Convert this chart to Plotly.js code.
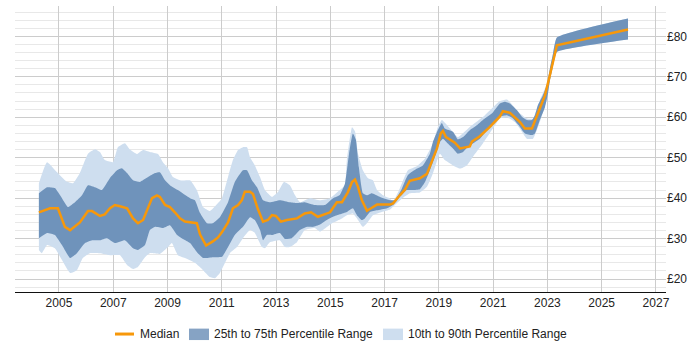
<!DOCTYPE html>
<html>
<head>
<meta charset="utf-8">
<script src="https://cdn.plot.ly/plotly-3.0.1.min.js"></script>
<style>html,body{margin:0;padding:0;background:#fff}#chart{width:700px;height:350px}</style>
</head>
<body>
<div id="chart"></div>
<script>
// Median
const medianX = [2004.26,2004.67,2004.96,2005.22,2005.41,2005.77,2006.07,2006.22,2006.51,2006.69,2006.88,2007.06,2007.25,2007.51,2007.73,2007.91,2008.10,2008.28,2008.43,2008.61,2008.72,2008.91,2009.09,2009.27,2009.46,2009.64,2009.94,2010.08,2010.20,2010.42,2010.67,2010.86,2011.01,2011.23,2011.41,2011.60,2011.74,2011.85,2012.04,2012.15,2012.33,2012.52,2012.70,2012.85,2012.99,2013.18,2013.40,2013.77,2014.06,2014.29,2014.54,2014.73,2014.99,2015.24,2015.43,2015.65,2015.80,2015.91,2016.02,2016.16,2016.35,2016.50,2016.72,2017.20,2017.31,2017.56,2017.75,2017.93,2018.30,2018.56,2018.74,2018.93,2019.07,2019.15,2019.26,2019.59,2019.78,2020.14,2020.22,2020.51,2020.88,2021.25,2021.36,2021.62,2021.99,2022.17,2022.43,2022.61,2022.91,2023.09,2023.20,2023.35,2025.97];
const medianY = [36.5,37.5,37.5,32.9,32.1,34.0,36.8,36.8,35.6,36.0,37.5,38.3,38.0,37.5,35.0,33.8,34.6,37.8,40.0,40.7,40.3,38.3,37.8,36.5,35.0,34.2,34.0,33.8,31.0,28.3,29.3,30.3,31.6,34.0,37.5,38.3,39.5,41.6,41.6,41.0,37.3,34.2,34.6,35.8,35.6,34.2,34.6,35.0,36.2,36.5,35.4,35.8,36.5,39.0,39.0,41.5,44.0,44.6,42.8,39.5,36.9,37.5,38.4,38.4,38.7,40.7,42.1,44.3,44.9,46.0,49.0,52.3,56.0,56.6,55.1,53.7,52.3,52.8,54.0,55.3,57.6,60.2,61.5,61.1,58.8,57.2,57.2,60.1,65.4,70.4,73.7,77.8,81.7];

// 25th percentile
const p25X = [2004.26,2004.56,2004.85,2005.11,2005.41,2005.66,2005.96,2006.22,2006.51,2006.77,2007.06,2007.43,2007.73,2007.91,2008.17,2008.35,2008.54,2008.83,2009.09,2009.35,2009.57,2009.83,2010.08,2010.31,2010.67,2011.01,2011.23,2011.48,2011.78,2012.04,2012.22,2012.41,2012.52,2012.66,2012.85,2013.14,2013.33,2013.58,2013.88,2014.14,2014.36,2014.62,2014.87,2015.10,2015.35,2015.61,2015.83,2015.98,2016.16,2016.27,2016.46,2016.72,2017.09,2017.31,2017.56,2017.82,2018.04,2018.30,2018.49,2018.67,2018.85,2019.04,2019.15,2019.33,2019.52,2019.70,2019.89,2020.07,2020.25,2020.51,2020.77,2020.99,2021.25,2021.51,2021.73,2021.99,2022.17,2022.43,2022.54,2022.72,2022.91,2023.02,2023.09,2023.20,2023.35,2025.97];
const p25Y = [30.1,31.4,30.9,28.4,25.2,26.4,28.9,29.6,29.6,30.1,28.9,29.6,27.6,27.2,28.4,32.1,32.9,32.6,33.3,30.9,29.9,28.9,26.7,25.2,25.4,25.5,27.9,30.9,32.9,35.3,34.6,32.1,29.6,30.9,30.9,31.4,29.9,30.1,32.1,32.9,32.9,33.5,34.6,35.4,36.0,36.6,37.5,35.8,34.6,35.0,36.6,37.0,37.5,38.3,40.3,42.0,42.0,42.2,44.0,46.9,50.2,53.9,54.7,53.5,52.3,51.0,51.4,52.7,53.5,54.7,56.8,58.4,60.2,60.5,59.7,57.6,56.0,55.6,56.0,59.3,62.5,65.8,69.0,72.5,76.1,79.2];

// 75th percentile
const p75X = [2004.26,2004.56,2004.85,2005.11,2005.33,2005.59,2005.85,2006.07,2006.33,2006.58,2006.88,2007.14,2007.32,2007.51,2007.73,2007.98,2008.28,2008.54,2008.72,2008.91,2009.09,2009.38,2009.83,2010.01,2010.20,2010.45,2010.67,2010.93,2011.23,2011.48,2011.78,2011.93,2012.11,2012.30,2012.52,2012.77,2013.14,2013.51,2013.77,2014.06,2014.43,2014.80,2015.10,2015.35,2015.54,2015.69,2015.83,2015.94,2016.05,2016.20,2016.35,2016.53,2016.83,2017.20,2017.38,2017.64,2017.86,2018.19,2018.41,2018.67,2018.78,2018.96,2019.11,2019.22,2019.52,2019.70,2019.89,2020.14,2020.40,2020.62,2020.95,2021.25,2021.43,2021.62,2021.88,2022.06,2022.24,2022.43,2022.54,2022.65,2022.83,2022.98,2023.09,2023.20,2023.35,2025.97];
const p75Y = [41.2,42.7,42.5,40.0,37.8,39.0,40.7,43.2,42.7,42.0,45.0,46.9,47.4,46.2,44.4,44.0,45.2,46.2,46.4,44.4,43.2,42.0,40.0,39.5,36.3,33.8,33.8,35.3,39.0,44.0,46.9,46.9,44.4,42.7,39.5,39.0,39.5,39.0,38.8,39.0,38.3,38.3,40.0,40.8,43.6,51.0,56.0,54.5,47.7,41.2,40.7,41.2,40.3,39.5,39.5,42.4,45.7,47.3,48.1,51.0,53.9,56.8,58.6,57.2,56.4,54.5,55.1,56.8,58.0,59.3,60.9,63.4,63.8,63.4,61.7,60.1,59.3,59.3,60.5,63.0,65.4,67.9,72.0,75.5,79.7,84.4];

// 10th percentile
const p10X = [2004.26,2004.37,2004.56,2004.85,2005.11,2005.41,2005.66,2005.88,2006.14,2006.51,2006.88,2007.25,2007.51,2007.73,2007.91,2008.17,2008.35,2008.72,2009.02,2009.16,2009.38,2009.64,2010.01,2010.31,2010.56,2010.75,2010.93,2011.12,2011.30,2011.56,2011.78,2012.04,2012.22,2012.48,2012.59,2012.77,2013.14,2013.33,2013.51,2013.77,2014.06,2014.43,2014.62,2014.80,2015.06,2015.43,2015.61,2015.83,2016.02,2016.20,2016.35,2016.57,2016.90,2017.20,2017.38,2017.64,2017.93,2018.30,2018.56,2018.78,2019.04,2019.22,2019.52,2019.78,2020.03,2020.25,2020.62,2020.99,2021.25,2021.54,2021.80,2022.06,2022.24,2022.47,2022.72,2022.98,2023.09,2023.20,2023.35,2025.97];
const p10Y = [27.2,26.4,28.4,27.6,24.7,21.5,22.2,25.2,26.4,26.4,25.9,25.9,23.5,22.5,23.0,25.4,26.4,26.2,27.9,28.9,25.9,25.2,24.0,22.2,20.5,20.2,21.5,24.0,26.4,27.9,30.1,32.1,31.4,27.9,27.6,29.1,29.6,27.9,27.9,29.1,32.1,32.6,31.7,32.5,33.8,35.0,35.8,36.2,34.6,32.9,33.8,35.8,36.6,37.2,38.3,39.9,41.2,41.4,42.8,46.1,51.0,49.4,48.1,47.3,48.1,50.2,53.5,57.2,59.7,59.9,58.8,56.4,54.7,54.7,58.8,64.6,69.0,72.5,76.1,79.2];

// 90th percentile
const p90X = [2004.26,2004.56,2004.96,2005.26,2005.52,2005.77,2006.07,2006.33,2006.51,2006.69,2006.99,2007.17,2007.43,2007.62,2007.87,2008.10,2008.35,2008.65,2008.83,2009.02,2009.20,2009.46,2009.83,2010.08,2010.31,2010.56,2010.82,2011.01,2011.23,2011.41,2011.60,2011.78,2011.93,2012.04,2012.22,2012.41,2012.59,2012.85,2013.07,2013.29,2013.51,2013.70,2013.88,2014.25,2014.62,2014.99,2015.35,2015.54,2015.61,2015.80,2015.91,2016.02,2016.20,2016.39,2016.57,2016.72,2016.94,2017.20,2017.31,2017.56,2017.86,2018.19,2018.49,2018.78,2018.96,2019.11,2019.41,2019.70,2020.14,2020.70,2021.25,2021.51,2021.99,2022.24,2022.47,2022.72,2022.98,2023.09,2023.20,2023.35,2025.97];
const p90Y = [43.7,48.9,46.2,44.2,43.7,46.2,51.0,52.1,51.4,49.4,48.9,52.6,53.6,52.0,50.9,51.9,51.4,50.9,48.9,47.4,45.2,44.4,44.4,42.0,37.8,36.8,38.5,40.0,45.2,49.4,51.9,52.6,52.6,50.1,48.1,45.2,42.0,40.3,41.5,44.0,43.2,40.7,39.0,40.0,39.5,40.0,42.0,43.2,49.4,57.5,56.5,51.0,46.9,44.9,44.4,42.0,40.7,39.9,39.1,42.4,46.9,47.9,49.8,53.5,57.5,59.3,57.2,55.1,57.6,60.5,64.0,64.4,60.9,59.7,59.7,64.2,68.3,72.0,75.5,79.7,84.4];

const legendNames = ['Median', '25th to 75th Percentile Range', '10th to 90th Percentile Range'];

const LIGHT = 'rgb(206,222,239)';
const DARK = 'rgb(111,147,187)';
const DARK_KEY = 'rgb(134,163,196)';
const ORANGE = 'rgb(247,152,10)';

const traces = [
  {x: p10X, y: p10Y, type: 'scatter', mode: 'lines', line: {width: 0, shape: 'spline', smoothing: 0.4}, showlegend: false, hoverinfo: 'skip'},
  {x: p90X, y: p90Y, type: 'scatter', mode: 'lines', fill: 'tonexty', fillcolor: LIGHT, line: {width: 0, shape: 'spline', smoothing: 0.4, color: LIGHT}, name: legendNames[2], showlegend: false},
  {x: p25X, y: p25Y, type: 'scatter', mode: 'lines', line: {width: 0, shape: 'spline', smoothing: 0.4}, showlegend: false, hoverinfo: 'skip'},
  {x: p75X, y: p75Y, type: 'scatter', mode: 'lines', fill: 'tonexty', fillcolor: DARK, line: {width: 0, shape: 'spline', smoothing: 0.4, color: DARK}, name: legendNames[1], showlegend: false},
  {x: medianX, y: medianY, type: 'scatter', mode: 'lines', line: {width: 2.5, color: ORANGE}, name: legendNames[0], showlegend: false}
];

// Legend drawn as keys + text (paper coordinates)
const keyY = -0.147;
const shapes = [
  {type: 'line', xref: 'paper', yref: 'paper', x0: 0.1536, x1: 0.1828, y0: keyY, y1: keyY, line: {color: ORANGE, width: 3}},
  {type: 'rect', xref: 'paper', yref: 'paper', x0: 0.2673, x1: 0.2980, y0: -0.128, y1: -0.168, fillcolor: DARK_KEY, line: {width: 0}},
  {type: 'rect', xref: 'paper', yref: 'paper', x0: 0.5653, x1: 0.5960, y0: -0.128, y1: -0.168, fillcolor: LIGHT, line: {width: 0}}
];
const legendTextX = [0.1905, 0.3042, 0.6022];
const annotations = legendNames.map((t, i) => ({
  text: t, xref: 'paper', yref: 'paper', x: legendTextX[i], y: keyY, xanchor: 'left', yanchor: 'middle',
  showarrow: false, font: {size: 12, color: '#222'}, borderpad: 0
}));

const layout = {
  width: 700, height: 350,
  margin: {l: 15, r: 34, t: 6, b: 58},
  paper_bgcolor: '#fff', plot_bgcolor: '#fff',
  font: {family: 'Liberation Sans, Arial, sans-serif', size: 12, color: '#222'},
  showlegend: false,
  shapes: shapes,
  annotations: annotations,
  xaxis: {
    range: [2003.38, 2027.37], tick0: 2005, dtick: 2, showgrid: true, gridcolor: '#cccccc', gridwidth: 1,
    zeroline: false, showline: true, linecolor: '#111', linewidth: 1, ticks: '', tickfont: {size: 12, color: '#222'}
  },
  yaxis: {
    range: [16.8, 87.5], side: 'right', tick0: 0, dtick: 10, tickprefix: '£', showgrid: true, gridcolor: '#cccccc',
    zeroline: false, showline: false, ticks: '', tickfont: {size: 12, color: '#222'},
    minor: {dtick: 2, tick0: 0, showgrid: true, gridcolor: '#e8e8e8', gridwidth: 1}
  }
};

Plotly.newPlot('chart', traces, layout, {displayModeBar: false, staticPlot: true});
</script>
</body>
</html>
